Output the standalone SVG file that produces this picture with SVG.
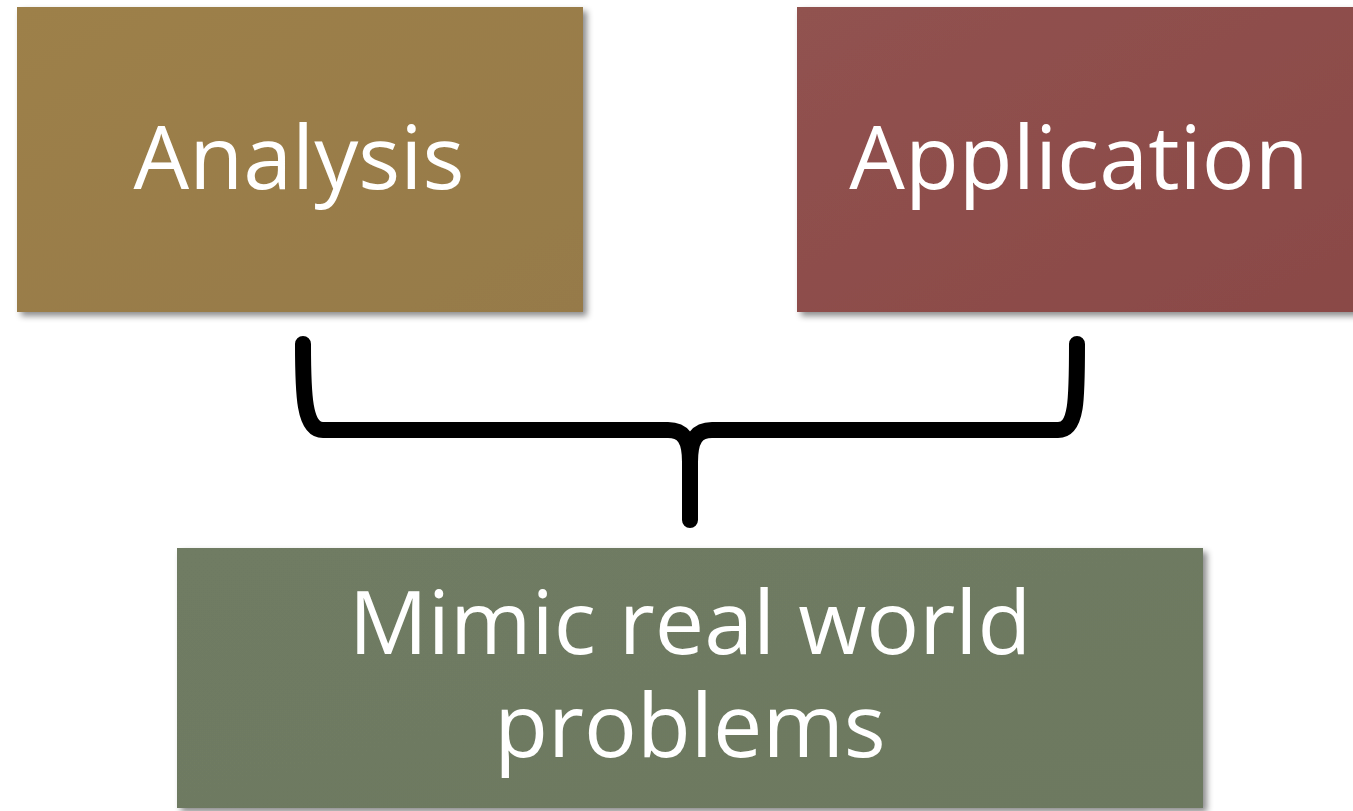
<svg xmlns="http://www.w3.org/2000/svg" width="1353" height="811" viewBox="0 0 1353 811">
<style>
.lbl{font-family:"Open Sans","Liberation Sans",sans-serif;fill:#ffffff;text-anchor:middle;font-size:88px}
.box{filter:url(#sh)}
</style>
<defs>
<filter id="sh" x="-5%" y="-5%" width="115%" height="115%">
<feDropShadow dx="4" dy="4" stdDeviation="3" flood-color="#000" flood-opacity="0.45"/>
</filter>
<linearGradient id="g1" x1="0" y1="0" x2="1" y2="1">
<stop offset="0" stop-color="#9d8049"/><stop offset="1" stop-color="#967a48"/>
</linearGradient>
<linearGradient id="g2" x1="0" y1="0" x2="1" y2="1">
<stop offset="0" stop-color="#915250"/><stop offset="1" stop-color="#8a4946"/>
</linearGradient>
<linearGradient id="g3" x1="0" y1="0" x2="1" y2="1">
<stop offset="0" stop-color="#6f7b63"/><stop offset="1" stop-color="#6d7960"/>
</linearGradient>
</defs>
<g id="analysis">
<rect class="box" x="17" y="7" width="566" height="305" fill="url(#g1)"/>
<text class="lbl" x="299" y="189">Analysis</text>
</g>
<g id="application">
<rect class="box" x="797" y="7" width="565" height="305" fill="url(#g2)"/>
<text class="lbl" x="1079" y="189">Application</text>
</g>
<g id="mimic">
<rect class="box" x="177" y="548" width="1026" height="260" fill="url(#g3)"/>
<text class="lbl"><tspan x="690" y="654">Mimic real world</tspan><tspan x="690" y="757">problems</tspan></text>
</g>
<g id="connectors">
<path d="M303,344 C303,395 304,430 323,430 L668,430 C684,430 690,440 690,462 L690,520 M690,462 C690,440 696,430 712,430 L1058,430 C1077,430 1077,400 1077,344" fill="none" stroke="#000" stroke-width="16" stroke-linecap="round" stroke-linejoin="round"/>
</g>
</svg>
